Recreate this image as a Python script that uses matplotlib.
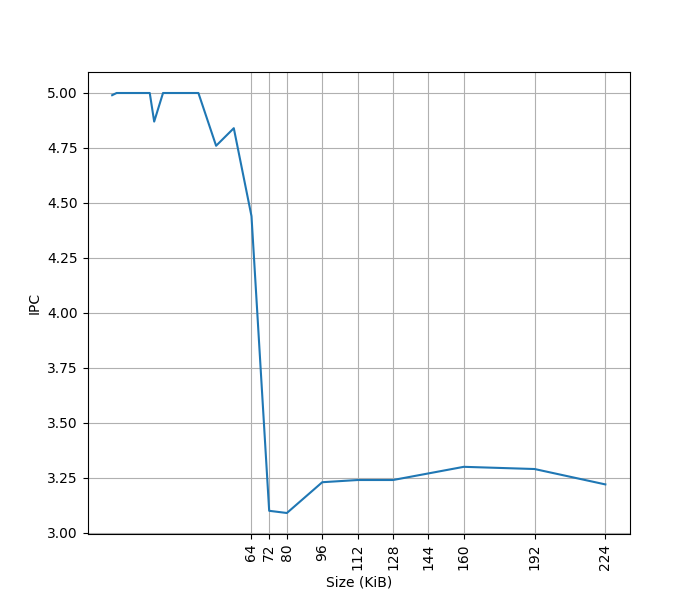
import numpy as np
import matplotlib
matplotlib.use("Agg")
import matplotlib.pyplot as plt

# cache size (KiB) vs IPC
sizes = [1, 3, 8, 12, 16, 18, 20, 24, 32, 40, 48, 56, 64, 72, 80, 96, 112, 128, 144, 160, 192, 224]
ipc = [4.99, 5.0, 5.0, 5.0, 5.0, 5.0, 4.87, 5.0, 5.0, 5.0, 4.76, 4.84, 4.44,
       3.10, 3.09, 3.23, 3.24, 3.24, 3.27, 3.30, 3.29, 3.22]
tick_sizes = [64, 72, 80, 96, 112, 128, 144, 160, 192, 224]

fig, ax = plt.subplots(figsize=(7, 6), dpi=100)
ax.plot(sizes, ipc)
ax.set_xticks(tick_sizes)
ax.set_xticklabels([str(t) for t in tick_sizes], rotation=90)
ax.set_xlabel('Size (KiB)')
ax.set_ylabel('IPC')
ax.grid(True)

plt.savefig('out.png')
